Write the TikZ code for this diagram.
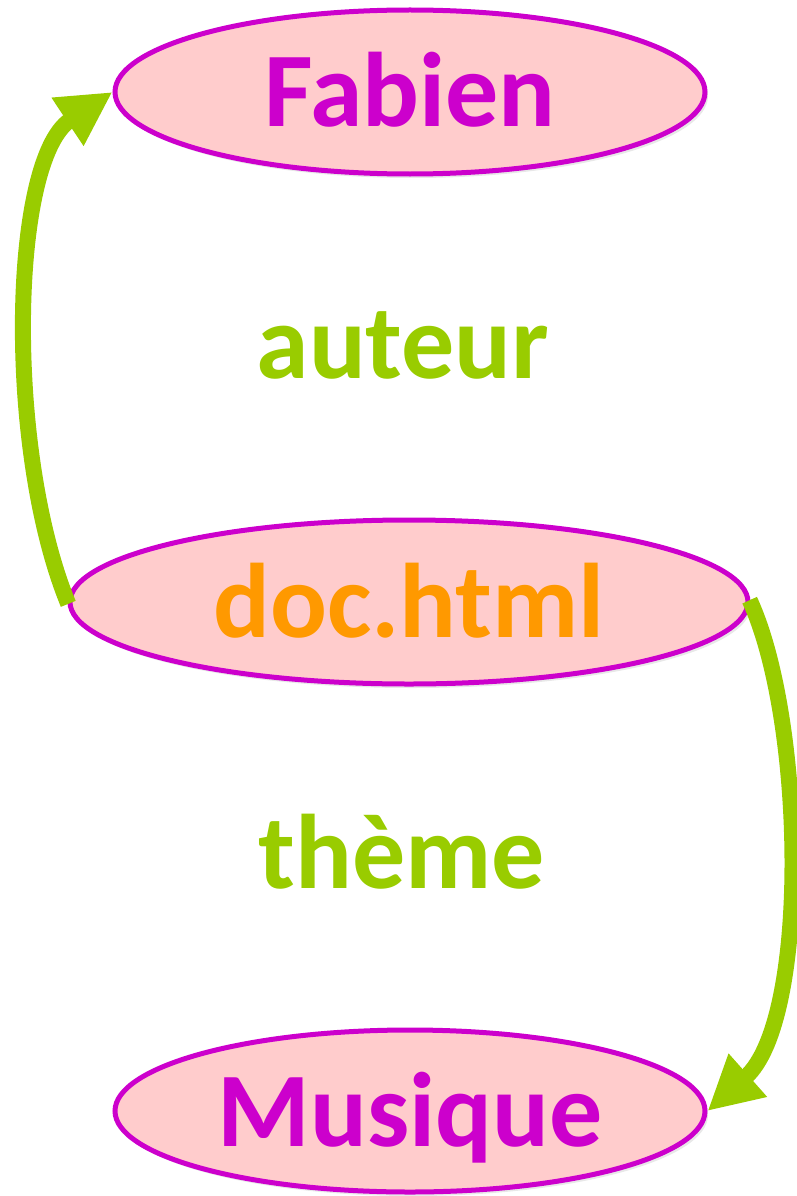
\documentclass[tikz,border=0pt]{standalone}
\usepackage{fontspec}
\setmainfont{Carlito}
\usetikzlibrary{shapes.geometric,arrows.meta,shadows}
\definecolor{pinkfill}{HTML}{FFCCCC}
\definecolor{magentaline}{HTML}{CC00CC}
\definecolor{orangetext}{HTML}{FF9900}
\definecolor{greenarrow}{HTML}{99CC00}
\tikzset{
  blob/.style={ellipse, draw=magentaline, line width=5pt, fill=pinkfill,
    inner sep=0pt, text height=70pt, text depth=0pt,
    font=\fontsize{106}{110}\selectfont\bfseries,
    drop shadow={opacity=0.18, shadow xshift=3pt, shadow yshift=-4pt}},
  rel/.style={text=greenarrow, font=\fontsize{106}{110}\selectfont\bfseries, anchor=base, inner sep=0pt},
  link/.style={draw=greenarrow, line width=16pt,
    -{Triangle[length=54pt, width=54pt]}}
}
\begin{document}
\begin{tikzpicture}[x=1pt,y=1pt]
\useasboundingbox (0,0) rectangle (796,-1196);
\node[blob, text=magentaline, minimum width=590pt, minimum height=164pt] (fabien) at (410,-92) {Fabien};
\node[blob, text=orangetext, minimum width=678pt, minimum height=164pt] (doc) at (409,-602) {doc.html};
\node[blob, text=magentaline, minimum width=590pt, minimum height=162pt] (musique) at (410,-1111) {Musique};
\node[rel] (auteur) at (403,-378) {auteur};
\node[rel] (theme) at (402,-888) {thème};
\draw[link, shorten <=-2pt] (doc.west) .. controls (5,-450) and (10,-160) .. (fabien.west);
\draw[link, shorten <=-2pt] (doc.east) .. controls (805,-720) and (810,-1020) .. (musique.east);
\end{tikzpicture}
\end{document}
